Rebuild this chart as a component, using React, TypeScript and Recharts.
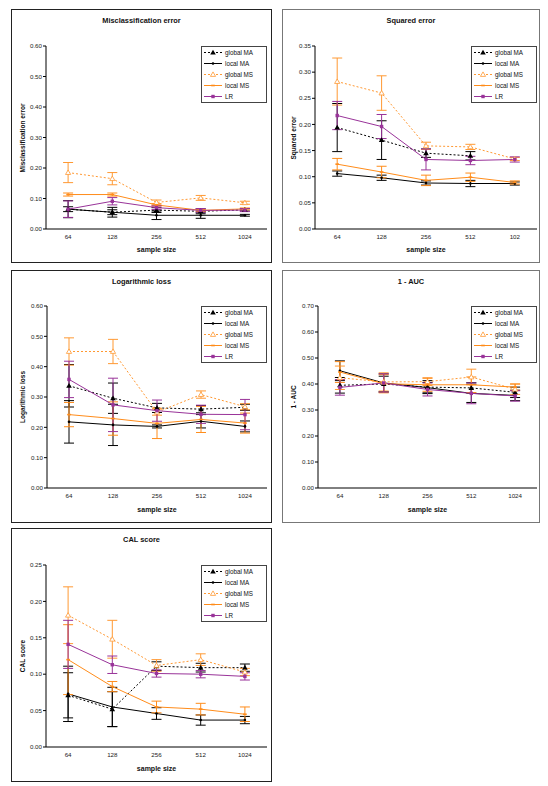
import React from 'react';
import { LineChart, Line, XAxis, YAxis, ErrorBar, Legend } from 'recharts';

const sampleSizes = ['64', '128', '256', '512', '1024'];
const squaredTickLabels = ['64', '128', '256', '512', '102'];

// Misclassification error
const misGlobalMA = [0.065, 0.055, 0.062, 0.058, 0.063];
const misGlobalMAErr = [0.028, 0.008, 0.008, 0.008, 0.004];
const misLocalMA = [0.065, 0.055, 0.045, 0.045, 0.045];
const misLocalMAErr = [0.008, 0.016, 0.014, 0.01, 0.003];
const misGlobalMS = [0.185, 0.165, 0.087, 0.102, 0.086];
const misGlobalMSErr = [0.033, 0.02, 0.008, 0.008, 0.005];
const misLocalMS = [0.113, 0.113, 0.079, 0.061, 0.066];
const misLocalMSErr = [0.005, 0.005, 0.004, 0.003, 0.003];
const misLR = [0.065, 0.091, 0.07, 0.061, 0.062];
const misLRErr = [0.027, 0.012, 0.006, 0.006, 0.005];

// Squared error
const sqGlobalMA = [0.194, 0.17, 0.145, 0.14, null];
const sqGlobalMAErr = [0.046, 0.037, 0.008, 0.008, null];
const sqLocalMA = [0.106, 0.098, 0.088, 0.087, 0.087];
const sqLocalMAErr = [0.005, 0.005, 0.004, 0.006, 0.003];
const sqGlobalMS = [0.282, 0.26, 0.159, 0.157, 0.134];
const sqGlobalMSErr = [0.045, 0.033, 0.007, 0.005, 0.003];
const sqLocalMS = [0.124, 0.109, 0.093, 0.099, 0.089];
const sqLocalMSErr = [0.011, 0.011, 0.01, 0.008, 0.003];
const sqLR = [0.217, 0.196, 0.133, 0.131, 0.133];
const sqLRErr = [0.027, 0.023, 0.02, 0.008, 0.005];

// Logarithmic loss
const logGlobalMA = [0.337, 0.296, 0.264, 0.26, 0.266];
const logGlobalMAErr = [0.07, 0.05, 0.015, 0.012, 0.01];
const logLocalMA = [0.218, 0.208, 0.203, 0.22, 0.203];
const logLocalMAErr = [0.07, 0.068, 0.005, 0.022, 0.018];
const logGlobalMS = [0.45, 0.45, 0.25, 0.308, 0.268];
const logGlobalMSErr = [0.045, 0.04, 0.01, 0.012, 0.01];
const logLocalMS = [0.242, 0.229, 0.213, 0.226, 0.214];
const logLocalMSErr = [0.04, 0.055, 0.05, 0.043, 0.033];
const logLR = [0.358, 0.274, 0.255, 0.243, 0.242];
const logLRErr = [0.06, 0.088, 0.035, 0.03, 0.05];

// 1 - AUC
const aucGlobalMA = [0.395, 0.4, 0.388, 0.385, 0.368];
const aucGlobalMAErr = [0.03, 0.03, 0.025, 0.02, 0.02];
const aucLocalMA = [0.451, 0.404, 0.386, 0.364, 0.356];
const aucLocalMAErr = [0.038, 0.035, 0.02, 0.035, 0.02];
const aucGlobalMS = [0.424, 0.408, 0.409, 0.427, 0.38];
const aucGlobalMSErr = [0.045, 0.035, 0.015, 0.03, 0.02];
const aucLocalMS = [0.446, 0.401, 0.397, 0.397, 0.388];
const aucLocalMSErr = [0.04, 0.035, 0.025, 0.03, 0.012];
const aucLR = [0.387, 0.404, 0.379, 0.364, 0.354];
const aucLRErr = [0.03, 0.035, 0.025, 0.04, 0.02];

// CAL score
const calGlobalMA = [0.071, 0.052, 0.111, 0.109, 0.109];
const calGlobalMAErr = [0.031, 0.024, 0.006, 0.006, 0.005];
const calLocalMA = [0.073, 0.055, 0.046, 0.037, 0.037];
const calLocalMAErr = [0.038, 0.027, 0.008, 0.007, 0.005];
const calGlobalMS = [0.181, 0.148, 0.112, 0.12, 0.103];
const calGlobalMSErr = [0.039, 0.026, 0.008, 0.008, 0.005];
const calLocalMS = [0.12, 0.083, 0.055, 0.052, 0.045];
const calLocalMSErr = [0.048, 0.007, 0.008, 0.008, 0.01];
const calLR = [0.141, 0.113, 0.101, 0.1, 0.097];
const calLRErr = [0.033, 0.012, 0.005, 0.005, 0.005];

const ticks60 = [0, 0.1, 0.2, 0.3, 0.4, 0.5, 0.6];
const ticks35 = [0, 0.05, 0.1, 0.15, 0.2, 0.25, 0.3, 0.35];
const ticks70 = [0, 0.1, 0.2, 0.3, 0.4, 0.5, 0.6, 0.7];
const ticks25 = [0, 0.05, 0.1, 0.15, 0.2, 0.25];

const FONT = '"Liberation Sans", Arial, sans-serif';

const SERIES = [
  { key: 'gMA', name: 'global MA', color: '#000000', err: '#000000', dash: '2 2', marker: 'triangle' },
  { key: 'lMA', name: 'local MA', color: '#000000', err: '#000000', dash: undefined, marker: 'dot' },
  { key: 'gMS', name: 'global MS', color: '#FF9933', err: '#FF9933', dash: '2 2', marker: 'openTriangle' },
  { key: 'lMS', name: 'local MS', color: '#FF8C1A', err: '#FF8C1A', dash: undefined, marker: 'dash' },
  { key: 'LR', name: 'LR', color: '#993399', err: '#993399', dash: undefined, marker: 'square' },
];

const drawMarker = (marker: string, cx: number, cy: number, color: string) => {
  switch (marker) {
    case 'triangle':
      return <polygon points={`${cx},${cy - 2.8} ${cx - 2.8},${cy + 2} ${cx + 2.8},${cy + 2}`} fill={color} />;
    case 'openTriangle':
      return <polygon points={`${cx},${cy - 2.6} ${cx - 2.6},${cy + 1.9} ${cx + 2.6},${cy + 1.9}`} fill="#fff" stroke={color} strokeWidth={0.8} />;
    case 'dot':
      return <circle cx={cx} cy={cy} r={1.3} fill={color} />;
    case 'dash':
      return <rect x={cx - 1.8} y={cy - 0.8} width={3.6} height={1.6} fill={color} />;
    default:
      return <rect x={cx - 1.7} y={cy - 1.7} width={3.4} height={3.4} fill={color} />;
  }
};

const buildRows = (labels: string[], values: (number | null)[][], errs: (number | null)[][]) =>
  labels.map((label, i) => {
    const row: any = { size: label };
    SERIES.forEach((s, j) => {
      row[s.key] = values[j][i];
      row[s.key + 'Err'] = errs[j][i];
    });
    return row;
  });

const LegendBox = () => (
  <div style={{ width: 66, height: 57, boxSizing: 'border-box', border: '1px solid #444', background: '#fff' }}>
    {SERIES.map((s) => (
      <div key={s.key} style={{ display: 'flex', alignItems: 'center', height: 11, fontSize: 6.3, fontFamily: FONT, color: '#111' }}>
        <svg width={22} height={11} style={{ flexShrink: 0 }}>
          <line x1={2} y1={5.5} x2={20} y2={5.5} stroke={s.color} strokeWidth={1} strokeDasharray={s.dash} />
          {drawMarker(s.marker, 11, 5.5, s.color)}
        </svg>
        <span style={{ marginLeft: 1 }}>{s.name}</span>
      </div>
    ))}
  </div>
);

interface PanelProps {
  title: string;
  yLabel: string;
  left: number;
  top: number;
  width: number;
  height: number;
  plotLeft: number;
  plotRight: number;
  plotTop: number;
  plotBottom: number;
  domain: [number, number];
  ticks: number[];
  rows: any[];
  border: string;
}

const Panel = ({ title, yLabel, left, top, width, height, plotLeft, plotRight, plotTop, plotBottom, domain, ticks, rows, border }: PanelProps) => {
  const xAxisH = 20;
  const pad = (plotRight - plotLeft) / 10;
  return (
    <div style={{ position: 'absolute', left, top, width, height, boxSizing: 'border-box', border, background: '#fff' }}>
      <div style={{ position: 'absolute', left: -1, top: -1, width, height }}>
        <div style={{ position: 'absolute', left: 0, width, top: 7, textAlign: 'center', fontSize: 7.4, fontWeight: 'bold', fontFamily: FONT, color: '#111' }}>{title}</div>
        <div style={{ position: 'absolute', left: plotLeft, width: plotRight - plotLeft, top: height - 17, textAlign: 'center', fontSize: 7, fontWeight: 'bold', fontFamily: FONT, color: '#111' }}>sample size</div>
        <div style={{ position: 'absolute', left: 11, top: (plotTop + plotBottom) / 2, width: 0, height: 0 }}>
          <div style={{ position: 'absolute', transform: 'translate(-50%, -50%) rotate(-90deg)', whiteSpace: 'nowrap', fontSize: 6.5, fontWeight: 'bold', fontFamily: FONT, color: '#111' }}>{yLabel}</div>
        </div>
        <LineChart
          width={width}
          height={height}
          data={rows}
          margin={{ top: plotTop, right: width - plotRight, bottom: height - plotBottom - xAxisH, left: 0 }}
        >
          <XAxis
            dataKey="size"
            height={xAxisH}
            padding={{ left: pad, right: pad }}
            tickLine={false}
            tickSize={4}
            tickMargin={2}
            axisLine={{ stroke: '#000' }}
            tick={{ fontSize: 6.2, fill: '#222', fontFamily: FONT }}
            interval={0}
          />
          <XAxis xAxisId="top" orientation="top" height={0} tick={false} tickLine={false} axisLine={{ stroke: '#888' }} />
          <YAxis
            width={plotLeft}
            domain={domain}
            ticks={ticks}
            allowDataOverflow
            tickFormatter={(v: number) => v.toFixed(2)}
            tickSize={3}
            tickMargin={1}
            tickLine={{ stroke: '#000' }}
            axisLine={{ stroke: '#000' }}
            tick={{ fontSize: 6.2, fill: '#222', fontFamily: FONT }}
          />
          <YAxis yAxisId="right" orientation="right" width={0} tick={false} tickLine={false} axisLine={{ stroke: '#888' }} />
          <Legend
            layout="vertical"
            align="center"
            verticalAlign="middle"
            content={() => <LegendBox />}
            wrapperStyle={{ position: 'absolute', top: plotTop, left: plotRight - 66, width: 66, height: 57 }}
          />
          {SERIES.map((s) => (
            <Line
              key={s.key}
              dataKey={s.key}
              name={s.name}
              stroke={s.color}
              strokeWidth={1}
              strokeDasharray={s.dash}
              isAnimationActive={false}
              connectNulls={false}
              activeDot={false}
              dot={(p: any) => {
                if (p.cx == null || p.cy == null || p.value == null) return <g key={`${s.key}-${p.index}`} />;
                return <g key={`${s.key}-${p.index}`}>{drawMarker(s.marker, p.cx, p.cy, s.color)}</g>;
              }}
            >
              <ErrorBar dataKey={s.key + 'Err'} width={5} stroke={s.err} strokeWidth={1} direction="y" isAnimationActive={false} />
            </Line>
          ))}
        </LineChart>
      </div>
    </div>
  );
};

const misRows = buildRows(sampleSizes,
  [misGlobalMA, misLocalMA, misGlobalMS, misLocalMS, misLR],
  [misGlobalMAErr, misLocalMAErr, misGlobalMSErr, misLocalMSErr, misLRErr]);
const sqRows = buildRows(squaredTickLabels,
  [sqGlobalMA, sqLocalMA, sqGlobalMS, sqLocalMS, sqLR],
  [sqGlobalMAErr, sqLocalMAErr, sqGlobalMSErr, sqLocalMSErr, sqLRErr]);
const logRows = buildRows(sampleSizes,
  [logGlobalMA, logLocalMA, logGlobalMS, logLocalMS, logLR],
  [logGlobalMAErr, logLocalMAErr, logGlobalMSErr, logLocalMSErr, logLRErr]);
const aucRows = buildRows(sampleSizes,
  [aucGlobalMA, aucLocalMA, aucGlobalMS, aucLocalMS, aucLR],
  [aucGlobalMAErr, aucLocalMAErr, aucGlobalMSErr, aucLocalMSErr, aucLRErr]);
const calRows = buildRows(sampleSizes,
  [calGlobalMA, calLocalMA, calGlobalMS, calLocalMS, calLR],
  [calGlobalMAErr, calLocalMAErr, calGlobalMSErr, calLocalMSErr, calLRErr]);

export default function App() {
  return (
    <div style={{ position: 'absolute', left: 0, top: 0, width: 548, height: 786, background: '#fff', overflow: 'hidden' }}>
      <Panel title="Misclassification error" yLabel="Misclassification error" left={11} top={9} width={261} height={254}
        plotLeft={35} plotRight={256} plotTop={37} plotBottom={220} domain={[0, 0.6]} ticks={ticks60} rows={misRows} border="1px solid #222" />
      <Panel title="Squared error" yLabel="Squared error" left={282} top={9} width={258} height={254}
        plotLeft={33} plotRight={255} plotTop={37} plotBottom={220} domain={[0, 0.35]} ticks={ticks35} rows={sqRows} border="1px solid #777" />
      <Panel title="Logarithmic loss" yLabel="Logarithmic loss" left={11} top={270} width={261} height={253}
        plotLeft={36} plotRight={256} plotTop={36} plotBottom={218} domain={[0, 0.6]} ticks={ticks60} rows={logRows} border="1px solid #222" />
      <Panel title="1 - AUC" yLabel="1 - AUC" left={282} top={270} width={258} height={253}
        plotLeft={36} plotRight={255} plotTop={36} plotBottom={218} domain={[0, 0.7]} ticks={ticks70} rows={aucRows} border="1px solid #777" />
      <Panel title="CAL score" yLabel="CAL score" left={11} top={528} width={261} height={254}
        plotLeft={35} plotRight={256} plotTop={37} plotBottom={219} domain={[0, 0.25]} ticks={ticks25} rows={calRows} border="1px solid #222" />
    </div>
  );
}
